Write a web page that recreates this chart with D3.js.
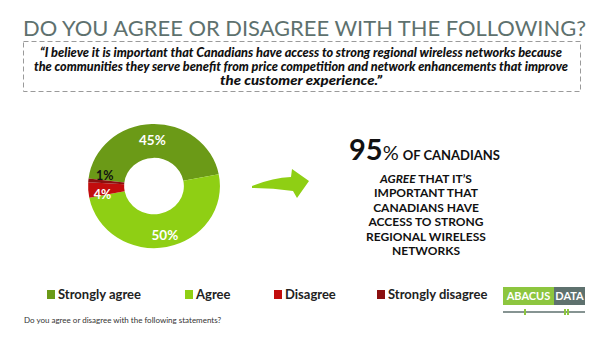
<!DOCTYPE html>
<html>
<head>
<meta charset="utf-8">
<script src="https://cdn.jsdelivr.net/npm/d3@7"></script>
<style>
  html, body { margin: 0; padding: 0; background: #fff; }
  svg { display: block; }
</style>
</head>
<body>
<svg id="chart" width="600" height="337"></svg>
<script>
// Survey responses
const categories = ["Strongly agree", "Agree", "Disagree", "Strongly disagree"];
const values = [45, 50, 4, 1];
const valueLabels = ["45%", "50%", "4%", "1%"];
const colors = ["#6b9a17", "#8fcf14", "#c20d0d", "#8b0f0f"];

const titleText = "DO YOU AGREE OR DISAGREE WITH THE FOLLOWING?";
const quoteLines = [
  "\u201CI believe it is important that Canadians have access to strong regional wireless networks because",
  "the communities they serve benefit from price competition and network enhancements that improve",
  "the customer experience.\u201D"
];
const calloutLines = [
  "AGREE THAT IT\u2019S",
  "IMPORTANT THAT",
  "CANADIANS HAVE",
  "ACCESS TO STRONG",
  "REGIONAL WIRELESS",
  "NETWORKS"
];
const footnote = "Do you agree or disagree with the following statements?";

const svg = d3.select("#chart");

// Title
svg.append("text")
  .attr("x", 23).attr("y", 36)
  .attr("textLength", 563).attr("lengthAdjust", "spacingAndGlyphs")
  .style("font-family", "Lato, 'Open Sans', sans-serif")
  .style("font-size", "21px")
  .style("fill", "#5e716e")
  .text(titleText);

// Dashed quote box
svg.append("rect")
  .attr("x", 23.5).attr("y", 41.5).attr("width", 557).attr("height", 50)
  .attr("fill", "none").attr("stroke", "#9a9a9a").attr("stroke-width", 1)
  .attr("stroke-dasharray", "5,3");

const quoteLens = [522, 534, 162];
svg.append("g").selectAll("text").data(quoteLines).join("text")
  .attr("x", 301).attr("y", (d, i) => 57 + i * 14)
  .attr("text-anchor", "middle")
  .attr("textLength", (d, i) => quoteLens[i]).attr("lengthAdjust", "spacingAndGlyphs")
  .style("font-family", "Lato, 'Open Sans', sans-serif")
  .style("font-weight", "900").style("font-style", "italic")
  .style("font-size", "12.5px").style("fill", "#111")
  .text(d => d);

// Donut
const cx = 154, cy = 186;
const outerR = 64, innerR = 29;
const pie = d3.pie().sort(null)
  .startAngle(-83 * Math.PI / 180)
  .endAngle(277 * Math.PI / 180);
const arcs = pie(values);
const arc = d3.arc().innerRadius(innerR).outerRadius(outerR);

const donut = svg.append("g")
  .attr("transform", `translate(${cx},${cy}) scale(1.03,0.97)`);
donut.selectAll("path").data(arcs).join("path")
  .attr("d", arc)
  .attr("fill", (d, i) => colors[i]);

// Slice labels
const labelOffsets = [[0, 0], [2, 3], [-5, 5], [-3, -6]];
const labelColors = ["#fff", "#fff", "#fff", "#111"];
svg.append("g").selectAll("text").data(arcs).join("text")
  .attr("x", (d, i) => cx + arc.centroid(d)[0] + labelOffsets[i][0])
  .attr("y", (d, i) => cy + arc.centroid(d)[1] + labelOffsets[i][1])
  .attr("text-anchor", "middle").attr("dominant-baseline", "central")
  .style("font-family", "Lato, 'Open Sans', sans-serif")
  .style("font-weight", "bold")
  .style("font-size", (d, i) => i < 2 ? "13.5px" : "12.5px")
  .style("fill", (d, i) => labelColors[i])
  .text((d, i) => valueLabels[i]);

// Arrow pointing to the callout
svg.append("path")
  .attr("d", "M252,186 Q272,178 291,177 L292,169 L309,181 L297,198 L293,191 Q272,188 252,188 Z")
  .attr("fill", "#8fcf14");

// Callout: share who agree (strongly agree + agree)
const agreeTotal = values[0] + values[1];
const callout = svg.append("text")
  .attr("x", 349).attr("y", 160)
  .style("font-family", "Lato, 'Open Sans', sans-serif")
  .style("font-weight", "bold").style("fill", "#111");
callout.append("tspan").style("font-size", "29px").text(agreeTotal);
callout.append("tspan").style("font-size", "20px").style("font-weight", "normal").text("%");
callout.append("tspan").attr("dx", 4).style("font-size", "13px").text("OF CANADIANS");

const cl = svg.append("g").selectAll("text").data(calloutLines).join("text")
  .attr("x", 426).attr("y", (d, i) => 183 + i * 14.4)
  .attr("text-anchor", "middle")
  .style("font-family", "Lato, 'Open Sans', sans-serif")
  .style("font-weight", "bold").style("font-size", "12px").style("fill", "#111");
cl.each(function (d, i) {
  const t = d3.select(this);
  if (i === 0) {
    t.append("tspan").style("font-style", "italic").text("AGREE");
    t.append("tspan").text(" THAT IT\u2019S");
  } else {
    t.text(d);
  }
});

// Legend
const legendX = [47, 185, 274, 377];
const legend = svg.append("g").selectAll("g").data(categories).join("g")
  .attr("transform", (d, i) => `translate(${legendX[i]},295)`);
legend.append("rect")
  .attr("x", 0).attr("y", -5).attr("width", 8).attr("height", 9)
  .attr("fill", (d, i) => colors[i]);
legend.append("text")
  .attr("x", 11).attr("y", 4)
  .style("font-family", "Lato, 'Open Sans', sans-serif")
  .style("font-weight", "bold").style("font-size", "13px").style("fill", "#222")
  .text(d => d);

// Footnote
svg.append("text")
  .attr("x", 24).attr("y", 323)
  .style("font-family", "Lato, 'Open Sans', sans-serif")
  .style("font-size", "8px").style("fill", "#333")
  .text(footnote);

// Logo
const logo = svg.append("g").attr("transform", "translate(503,287)");
logo.append("rect").attr("x", 0).attr("y", 0).attr("width", 51).attr("height", 18).attr("fill", "#8dc63f");
logo.append("rect").attr("x", 51).attr("y", 0).attr("width", 31).attr("height", 18).attr("fill", "#5e716e");
logo.append("text").attr("x", 25.5).attr("y", 13).attr("text-anchor", "middle")
  .style("font-family", "Lato, sans-serif").style("font-weight", "bold").style("font-size", "11px").style("fill", "#fff")
  .text("ABACUS");
logo.append("text").attr("x", 66.5).attr("y", 13).attr("text-anchor", "middle")
  .style("font-family", "Lato, sans-serif").style("font-weight", "bold").style("font-size", "11px").style("fill", "#fff")
  .text("DATA");
logo.append("line").attr("x1", 0).attr("x2", 82).attr("y1", 25).attr("y2", 25)
  .attr("stroke", "#5e716e").attr("stroke-width", 1.5);
logo.append("rect").attr("x", 21).attr("y", 22).attr("width", 2).attr("height", 6).attr("fill", "#8dc63f");
logo.append("rect").attr("x", 61).attr("y", 22).attr("width", 2).attr("height", 6).attr("fill", "#8dc63f");
logo.append("rect").attr("x", 64).attr("y", 22).attr("width", 2).attr("height", 6).attr("fill", "#8dc63f");
</script>
</body>
</html>
